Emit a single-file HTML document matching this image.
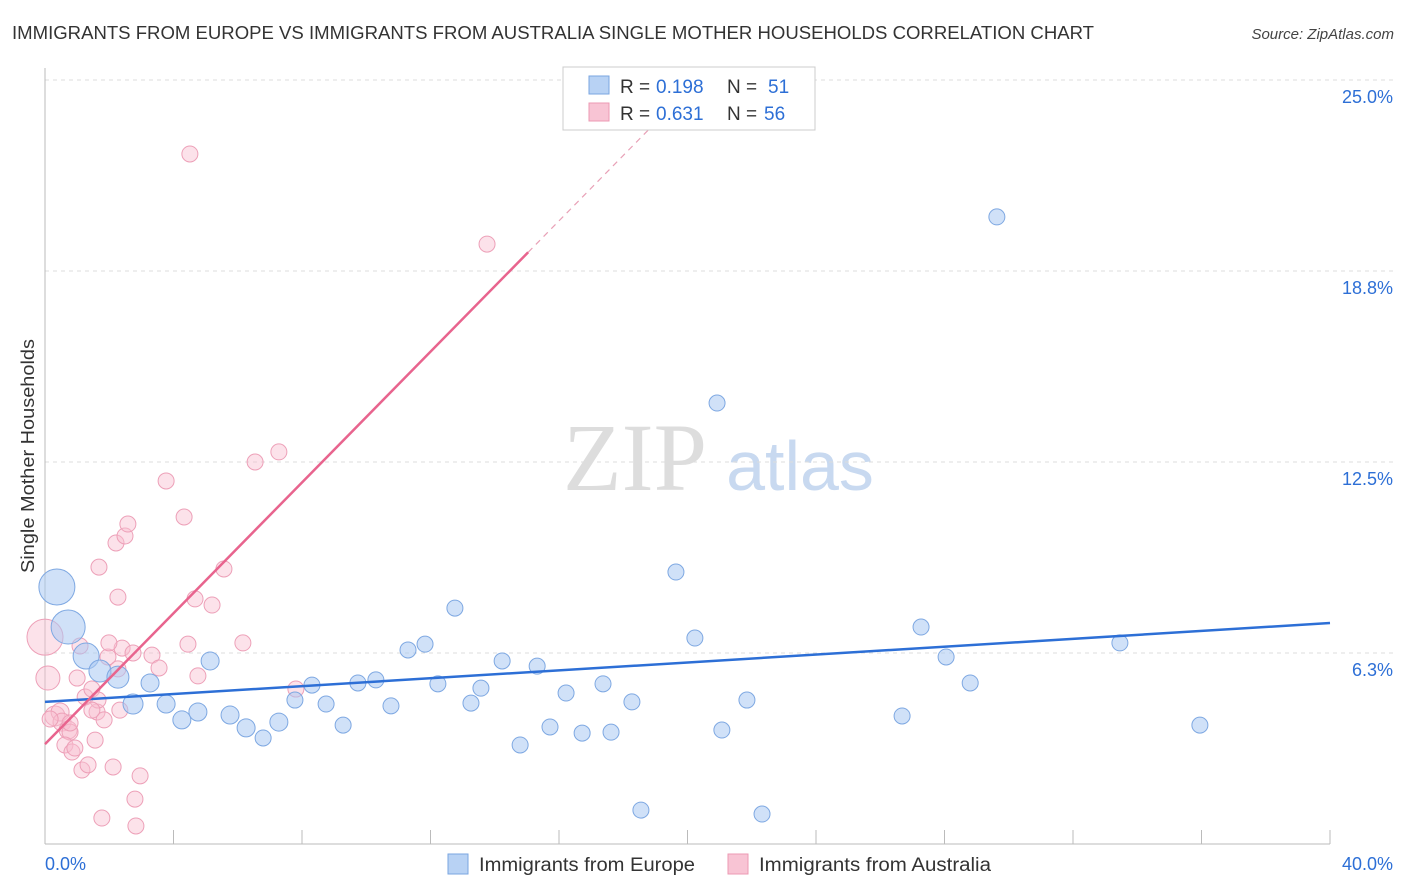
<!DOCTYPE html>
<html><head><meta charset="utf-8">
<style>
body{margin:0;background:#fff;font-family:"Liberation Sans",sans-serif;}
svg{display:block}
</style></head>
<body>
<svg id="chart" width="1406" height="892" xmlns="http://www.w3.org/2000/svg" font-family="Liberation Sans, sans-serif">
<text x="12" y="39" font-size="18" fill="#333" textLength="1082" lengthAdjust="spacingAndGlyphs">IMMIGRANTS FROM EUROPE VS IMMIGRANTS FROM AUSTRALIA SINGLE MOTHER HOUSEHOLDS CORRELATION CHART</text>
<text x="1394" y="39" font-size="15" fill="#444" font-style="italic" text-anchor="end">Source: ZipAtlas.com</text>
<text transform="translate(34,456) rotate(-90)" font-size="18" fill="#333" text-anchor="middle" textLength="234" lengthAdjust="spacingAndGlyphs">Single Mother Households</text>
<g>
<text x="635" y="490" font-size="96" font-family="Liberation Serif, serif" fill="#ddd" text-anchor="middle">ZIP</text>
<text x="800" y="490" font-size="70" fill="#c8d9f0" text-anchor="middle">atlas</text>
</g>
<g id="grid"></g>
<g id="axes"></g>
<g id="pinkPts"></g>
<g id="bluePts"></g>
<g id="lines"></g>
<g>
<rect x="563" y="67" width="252" height="63" fill="#fff" stroke="#ccc"/>
<rect x="589" y="76" width="20" height="18" fill="#b8d2f4" stroke="#7aa6e0"/>
<rect x="589" y="103" width="20" height="18" fill="#f8c4d4" stroke="#ec9ab3"/>
<text x="620" y="93" font-size="19" fill="#333">R =</text>
<text x="656" y="93" font-size="19" fill="#2d6fd6">0.198</text>
<text x="727" y="93" font-size="19" fill="#333">N =</text>
<text x="768" y="93" font-size="19" fill="#2d6fd6">51</text>
<text x="620" y="120" font-size="19" fill="#333">R =</text>
<text x="656" y="120" font-size="19" fill="#2d6fd6">0.631</text>
<text x="727" y="120" font-size="19" fill="#333">N =</text>
<text x="764" y="120" font-size="19" fill="#2d6fd6">56</text>
</g>
<g>
<rect x="448" y="854" width="20" height="20" fill="#b8d2f4" stroke="#7aa6e0"/>
<text x="479" y="871" font-size="19" fill="#333" textLength="216" lengthAdjust="spacingAndGlyphs">Immigrants from Europe</text>
<rect x="728" y="854" width="20" height="20" fill="#f8c4d4" stroke="#ec9ab3"/>
<text x="759" y="871" font-size="19" fill="#333" textLength="232" lengthAdjust="spacingAndGlyphs">Immigrants from Australia</text>
</g>
</svg>
<script>
const yTicks=[25.0,18.75,12.5,6.25];
const yTickLabels=["25.0%","18.8%","12.5%","6.3%"];
const xTickLabels=["0.0%","40.0%"];
const blueX=[0.37,0.72,1.28,1.71,2.27,2.74,3.27,3.77,4.26,4.76,5.14,5.76,6.26,6.79,7.28,7.78,8.31,8.75,9.28,9.74,10.30,10.77,11.30,11.83,12.23,12.76,13.26,13.57,14.23,14.79,15.32,15.72,16.22,16.72,17.37,17.62,18.27,18.55,19.64,20.23,20.92,21.07,21.85,22.32,26.68,27.27,28.05,28.80,29.63,33.46,35.95];
const blueY=[8.41,7.10,6.15,5.66,5.46,4.58,5.27,4.58,4.06,4.32,5.99,4.22,3.80,3.47,3.99,4.71,5.20,4.58,3.89,5.27,5.37,4.52,6.35,6.54,5.24,7.72,4.61,5.10,5.99,3.24,5.82,3.83,4.94,3.63,5.24,3.66,4.65,1.11,8.90,6.74,14.43,3.73,4.71,0.98,4.19,7.10,6.12,5.27,20.52,6.58,3.89];
const blueSize=[18,17,13,11,11,10,9,9,9,9,9,9,9,8,9,8,8,8,8,8,8,8,8,8,8,8,8,8,8,8,8,8,8,8,8,8,8,8,8,8,8,8,8,8,8,8,8,8,8,8,8];
const pinkX=[0.00,0.09,0.31,0.47,0.53,0.72,0.78,0.62,0.84,0.93,1.00,1.09,1.15,1.34,1.25,1.46,1.56,1.62,1.65,1.68,1.77,1.84,1.96,2.12,2.21,2.27,2.33,2.40,2.49,2.58,2.74,2.80,2.96,2.83,3.33,3.55,3.77,4.33,4.45,4.67,4.76,5.20,5.57,6.16,6.54,7.28,7.81,13.76,4.51,1.99,2.27,1.46,0.78,0.16];
const pinkY=[6.77,5.43,4.19,4.32,3.99,3.73,3.66,3.24,3.01,3.14,5.43,6.48,2.42,2.59,4.81,5.07,3.40,4.32,4.71,9.06,0.85,4.06,6.12,2.52,9.85,8.08,4.38,6.41,10.08,10.47,6.25,1.47,2.23,0.59,6.18,5.76,11.88,10.70,6.54,8.02,5.50,7.82,9.00,6.58,12.50,12.83,5.07,19.63,22.58,6.58,5.73,4.38,3.96,4.09];
const pinkSize=[18,12,10,9,9,9,8,8,8,8,8,8,8,8,8,8,8,8,8,8,8,8,8,8,8,8,8,8,8,8,8,8,8,8,8,8,8,8,8,8,8,8,8,8,8,8,8,8,8,8,8,8,8,8];
const blueFit=[4.65,0.0645];
const pinkFit=[3.27,1.07];
const pinkSolidEnd=15.04, pinkDashEnd=19.6;

const NS="http://www.w3.org/2000/svg";
const X0=45,X1=1330,Y0=844,YPX=191/6.25;
const sx=v=>X0+v/40*(X1-X0);
const sy=v=>Y0-v*YPX;
function mk(tag,parent,attrs){const e=document.createElementNS(NS,tag);for(const k in attrs)e.setAttribute(k,attrs[k]);document.getElementById(parent).appendChild(e);return e;}

yTicks.forEach((t,i)=>{
 const l=mk('line','grid',{x1:X0,x2:1393,y1:sy(t),y2:sy(t),stroke:'#ddd','stroke-dasharray':'4,4'});
 
 
 const tx=mk('text','grid',{x:1393,y:sy(t)+23,'font-size':18,fill:'#2d6fd6','text-anchor':'end'});
 tx.textContent=yTickLabels[i];
 
 
});
const ya=mk('line','axes',{x1:X0,x2:X0,y1:68,y2:Y0,stroke:'#bbb'});


const xa=mk('line','axes',{x1:X0,x2:X1,y1:Y0,y2:Y0,stroke:'#bbb'});


for(let i=0;i<=10;i++){
 const t=mk('line','axes',{x1:sx(i*4),x2:sx(i*4),y1:830,y2:Y0,stroke:'#bbb'});
 
 
}
const xl0=mk('text','axes',{x:45,y:870,'font-size':18,fill:'#2d6fd6'});xl0.textContent=xTickLabels[0];


const xl1=mk('text','axes',{x:1393,y:870,'font-size':18,fill:'#2d6fd6','text-anchor':'end'});xl1.textContent=xTickLabels[1];



pinkX.forEach((v,i)=>{
 const c=mk('circle','pinkPts',{cx:sx(v),cy:sy(pinkY[i]),r:pinkSize[i],fill:'rgba(248,190,208,0.45)',stroke:'#eda0b8','stroke-width':1});
 
 
});
blueX.forEach((v,i)=>{
 const c=mk('circle','bluePts',{cx:sx(v),cy:sy(blueY[i]),r:blueSize[i],fill:'rgba(170,200,242,0.55)',stroke:'#7ea8e2','stroke-width':1});
 
 
});
const bl=mk('line','lines',{x1:sx(0),y1:sy(blueFit[0]),x2:sx(40),y2:sy(blueFit[0]+blueFit[1]*40),stroke:'#2d6fd6','stroke-width':2.5});


const pl=mk('line','lines',{x1:sx(0),y1:sy(pinkFit[0]),x2:sx(pinkSolidEnd),y2:sy(pinkFit[0]+pinkFit[1]*pinkSolidEnd),stroke:'#e8648e','stroke-width':2.5});


const pd=mk('line','lines',{x1:sx(pinkSolidEnd),y1:sy(pinkFit[0]+pinkFit[1]*pinkSolidEnd),x2:sx(pinkDashEnd),y2:sy(pinkFit[0]+pinkFit[1]*pinkDashEnd),stroke:'#e8a0b6','stroke-width':1.2,'stroke-dasharray':'6,5'});


</script>
</body></html>
